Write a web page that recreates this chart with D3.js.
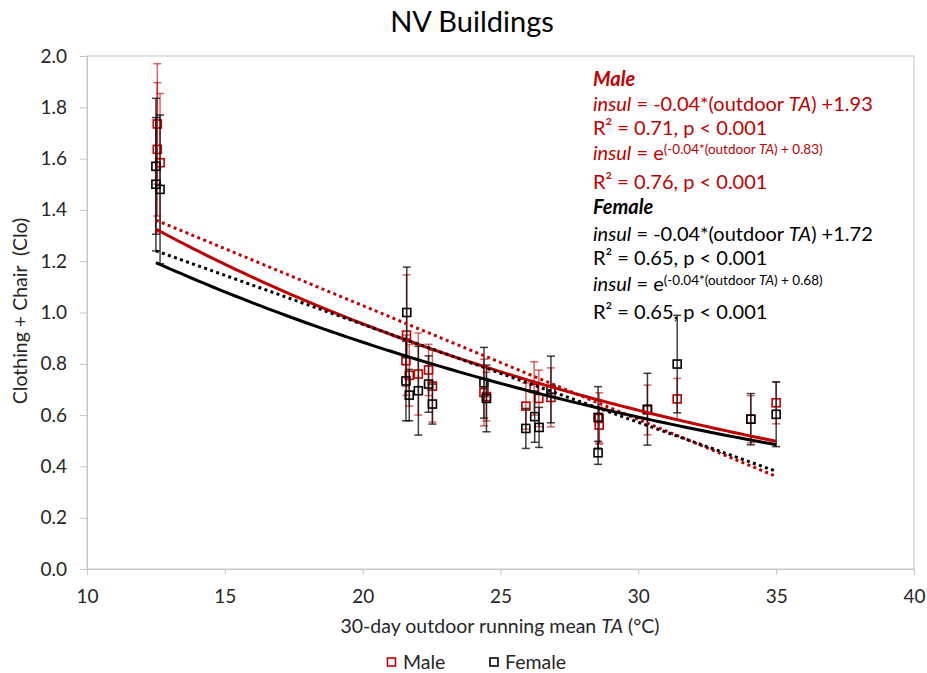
<!DOCTYPE html>
<html><head><meta charset="utf-8">
<script src="https://cdn.jsdelivr.net/npm/d3@7"></script>
<style>
body{margin:0;background:#fff}
svg{display:block;font-family:Lato,"Open Sans",sans-serif}
</style>
</head><body>
<svg id="chart" width="927" height="673"></svg>
<script>
// ---- data ----
const maleX  = [12.55,12.55,12.65,21.59,21.57,21.69,22.02,22.39,22.53,24.40,24.49,25.92,26.22,26.39,26.83,28.58,28.58,30.33,31.41,34.08,35.00];
const maleY  = [1.735,1.636,1.584,0.912,0.812,0.755,0.760,0.776,0.713,0.688,0.672,0.635,0.704,0.665,0.669,0.587,0.561,0.620,0.663,0.584,0.648];
const maleSD = [0.235,0.260,0.270,0.235,0.100,0.120,0.160,0.100,0.140,0.130,0.095,0.090,0.104,0.110,0.115,0.100,0.070,0.097,0.080,0.092,0.082];

const femaleX  = [12.50,12.50,12.65,21.60,21.57,21.69,22.02,22.39,22.53,24.40,24.49,25.92,26.24,26.40,26.83,28.54,28.54,30.33,31.41,34.08,35.00];
const femaleY  = [1.570,1.500,1.480,1.000,0.733,0.678,0.695,0.721,0.643,0.726,0.665,0.548,0.594,0.552,0.700,0.591,0.453,0.623,0.799,0.584,0.603];
const femaleSD = [0.265,0.260,0.290,0.177,0.155,0.100,0.173,0.110,0.078,0.138,0.130,0.078,0.100,0.078,0.130,0.120,0.045,0.140,0.190,0.100,0.126];

// trendline coefficients [slope, intercept] over the data range
const fitRange     = [12.5, 35];
const maleLinFit   = [-0.0444, 1.915];
const femaleLinFit = [-0.0382, 1.718];
const maleExpFit   = [-0.0435, 0.825];
const femaleExpFit = [-0.0401, 0.679];

const xTicks = [10,15,20,25,30,35,40];
const yTicks = [0,0.2,0.4,0.6,0.8,1.0,1.2,1.4,1.6,1.8,2.0];
const seriesNames = ["Male","Female"];

// ---- drawing ----
const RED = "#c00000", BLK = "#000000", AXIS = "#c6c6c6", TXT = "#262626";
const svg = d3.select("#chart");
const x = d3.scaleLinear().domain([10,40]).range([87,914]);
const y = d3.scaleLinear().domain([0,2]).range([569,56]);

// plot border
svg.append("rect").attr("x",x(10)).attr("y",y(2)).attr("width",x(40)-x(10)).attr("height",y(0)-y(2))
  .attr("fill","none").attr("stroke",AXIS).attr("stroke-width",1);

const yAxis = svg.append("g").attr("transform",`translate(${x(10)},0)`)
  .call(d3.axisLeft(y).tickValues(yTicks).tickFormat(d3.format(".1f")).tickSize(7).tickPadding(13));
const xAxis = svg.append("g").attr("transform",`translate(0,${y(0)})`)
  .call(d3.axisBottom(x).tickValues(xTicks).tickFormat(d3.format("d")).tickSize(6).tickPadding(15));
[yAxis,xAxis].forEach(g=>{
  g.select(".domain").attr("stroke",AXIS);
  g.selectAll(".tick line").attr("stroke",AXIS);
  g.selectAll(".tick text").attr("fill",TXT).style("font-size","19px").style("font-family","Lato");
});

function drawSeries(xs, ys, sds, color, errOpacity){
  const data = xs.map((v,i)=>({x:v,y:ys[i],sd:sds[i]}));
  const g = svg.append("g");
  const eb = g.append("g").attr("stroke",color).attr("stroke-opacity",errOpacity).attr("stroke-width",1.5);
  eb.selectAll("line.v").data(data).join("line").attr("class","v")
    .attr("x1",d=>x(d.x)).attr("x2",d=>x(d.x)).attr("y1",d=>y(d.y+d.sd)).attr("y2",d=>y(d.y-d.sd));
  eb.selectAll("line.t").data(data).join("line").attr("class","t")
    .attr("x1",d=>x(d.x)-4).attr("x2",d=>x(d.x)+4).attr("y1",d=>y(d.y+d.sd)).attr("y2",d=>y(d.y+d.sd));
  eb.selectAll("line.b").data(data).join("line").attr("class","b")
    .attr("x1",d=>x(d.x)-4).attr("x2",d=>x(d.x)+4).attr("y1",d=>y(d.y-d.sd)).attr("y2",d=>y(d.y-d.sd));
  g.selectAll("rect").data(data).join("rect")
    .attr("x",d=>x(d.x)-4).attr("y",d=>y(d.y)-4).attr("width",8).attr("height",8)
    .attr("fill","none").attr("stroke",color).attr("stroke-width",1.6);
}
drawSeries(maleX, maleY, maleSD, RED, 0.6);
drawSeries(femaleX, femaleY, femaleSD, BLK, 0.75);

// trendlines
const samples = d3.range(0,101).map(i=>fitRange[0]+(fitRange[1]-fitRange[0])*i/100);
const line = d3.line().x(d=>x(d[0])).y(d=>y(d[1]));
function trend(f, color, dotted){
  svg.append("path").datum(samples.map(t=>[t,f(t)])).attr("d",line)
    .attr("fill","none").attr("stroke",color).attr("stroke-width",3)
    .attr("stroke-dasharray",dotted?"3 3.4":null);
}
trend(t=>maleLinFit[0]*t+maleLinFit[1], RED, true);
trend(t=>Math.exp(maleExpFit[0]*t+maleExpFit[1]), RED, false);
trend(t=>femaleLinFit[0]*t+femaleLinFit[1], BLK, true);
trend(t=>Math.exp(femaleExpFit[0]*t+femaleExpFit[1]), BLK, false);

// title & axis titles
svg.append("text").attr("x",472).attr("y",32).attr("text-anchor","middle")
  .style("font-size","29px").attr("fill",BLK).text("NV Buildings");
const xt = svg.append("text").attr("x",500).attr("y",633).attr("text-anchor","middle")
  .style("font-size","19.5px").attr("fill",TXT);
xt.append("tspan").text("30-day outdoor running mean ");
xt.append("tspan").style("font-style","italic").text("TA");
xt.append("tspan").text(" (°C)");
svg.append("text").attr("transform","translate(27,311) rotate(-90)").attr("text-anchor","middle")
  .style("font-size","19.5px").style("white-space","pre").attr("fill",TXT).text("Clothing + Chair  (Clo)");

// annotations
const ann = svg.append("g").style("font-size","20px");
function header(txt, color, yy){
  ann.append("text").attr("x",593).attr("y",yy).attr("fill",color)
    .style("font-weight","bold").style("font-style","italic").text(txt);
}
function linEq(b, color, yy){
  const t = ann.append("text").attr("x",593).attr("y",yy).attr("fill",color);
  t.append("tspan").style("font-style","italic").text("insul");
  t.append("tspan").text(" = -0.04*(outdoor ");
  t.append("tspan").style("font-style","italic").text("TA");
  t.append("tspan").text(") +"+b);
}
function expEq(b, color, yy){
  const t = ann.append("text").attr("x",593).attr("y",yy).attr("fill",color);
  t.append("tspan").style("font-style","italic").text("insul");
  t.append("tspan").text(" = e");
  t.append("tspan").attr("dy",-6).style("font-size","13.5px").text("(-0.04*(outdoor ");
  t.append("tspan").style("font-size","13.5px").style("font-style","italic").text("TA");
  t.append("tspan").style("font-size","13.5px").text(") + "+b+")");
}
function rsq(r, color, yy){
  ann.append("text").attr("x",593).attr("y",yy).attr("fill",color).text(`R² = ${r}, p < 0.001`);
}
header("Male", RED, 86);
linEq("1.93", RED, 111);
rsq("0.71", RED, 135);
expEq("0.83", RED, 160);
rsq("0.76", RED, 189);
header("Female", BLK, 214);
linEq("1.72", BLK, 241);
rsq("0.65", BLK, 265);
expEq("0.68", BLK, 291);
rsq("0.65", BLK, 319);

// legend
const leg = svg.append("g");
[[391.5,403,RED],[494,505,BLK]].forEach((p,i)=>{
  leg.append("rect").attr("x",p[0]-4).attr("y",658).attr("width",8).attr("height",8)
    .attr("fill","none").attr("stroke",p[2]).attr("stroke-width",1.6);
  leg.append("text").attr("x",p[1]).attr("y",669).style("font-size","19.5px").attr("fill",TXT).text(seriesNames[i]);
});
</script>
</body></html>
